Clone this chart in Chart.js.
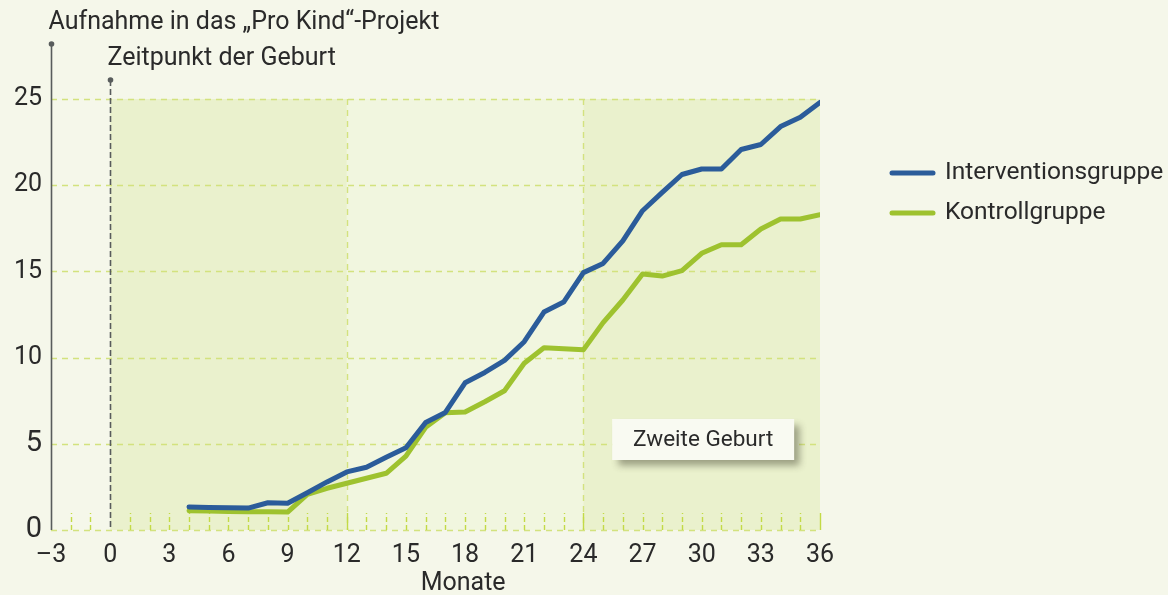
<!DOCTYPE html>
<html>
<head>
<meta charset="utf-8">
<script src="https://cdn.jsdelivr.net/npm/chart.js@4/dist/chart.umd.min.js"></script>
<style>
html,body{margin:0;padding:0;background:#f5f7ea;}
#wrap{position:relative;width:1168px;height:595px;}
canvas{display:block;}
</style>
</head>
<body>
<div id="wrap"><canvas id="c" width="1168" height="595"></canvas></div>
<script>
// ---- data ----
const months = [4,5,6,7,8,9,10,11,12,13,14,15,16,17,18,19,20,21,22,23,24,25,26,27,28,29,30,31,32,33,34,35,36];
const interventionsgruppe = [1.34,1.31,1.29,1.27,1.58,1.55,2.16,2.79,3.37,3.64,4.22,4.77,6.24,6.82,8.54,9.14,9.84,10.92,12.64,13.22,14.93,15.46,16.77,18.52,19.58,20.62,20.94,20.94,22.07,22.36,23.40,23.94,24.80];
const kontrollgruppe = [1.12,1.10,1.08,1.06,1.06,1.04,2.07,2.42,2.71,3.00,3.29,4.29,5.96,6.80,6.84,7.44,8.08,9.67,10.57,10.51,10.45,12.03,13.34,14.85,14.73,15.04,16.05,16.55,16.55,17.46,18.04,18.04,18.29];
const seriesLabels = ['Interventionsgruppe','Kontrollgruppe'];
const seriesColors = ['#2b5c9a','#9ec22f'];
const xTicks = [-3,0,3,6,9,12,15,18,21,24,27,30,33,36];
const yTicks = [0,5,10,15,20,25];
const annotations = [
  {month:-3, label:'Aufnahme in das \u201EPro Kind\u201C-Projekt'},
  {month:0, label:'Zeitpunkt der Geburt'}
];
const shadedSpans = [[0,12],[24,36]];
const lightSpans = [[12,24]];
const boxLabel = 'Zweite Geburt';
const xTitle = 'Monate';

const FONT = 'Roboto';
const TEXT = '#2a2a2a';
const GRID = '#d3e27e';
const TICKC = '#c3da46';
const DARK = '#585c5c';

const toPts = arr => months.map((m,i)=>({x:m,y:arr[i]}));

const deco = {
  id:'deco',
  beforeDatasetsDraw(chart){
    const {ctx, scales:{x,y}} = chart;
    ctx.save();
    const yTop = y.getPixelForValue(25), yBot = y.getPixelForValue(0);
    lightSpans.forEach(([s,e])=>{
      ctx.fillStyle='#f1f6df';
      ctx.fillRect(x.getPixelForValue(s), yTop, x.getPixelForValue(e)-x.getPixelForValue(s), yBot-yTop);
    });
    shadedSpans.forEach(([s,e])=>{
      ctx.fillStyle='#eaf1cd';
      ctx.fillRect(x.getPixelForValue(s), yTop, x.getPixelForValue(e)-x.getPixelForValue(s), yBot-yTop);
    });
    // horizontal grid
    ctx.strokeStyle=GRID; ctx.lineWidth=1.4; ctx.setLineDash([6,5]);
    yTicks.forEach(v=>{
      const py=Math.round(y.getPixelForValue(v))+0.5;
      ctx.beginPath(); ctx.moveTo(x.getPixelForValue(-3),py); ctx.lineTo(x.getPixelForValue(36),py); ctx.stroke();
    });
    // vertical grid at 12, 24
    [12,24].forEach(v=>{
      const px=Math.round(x.getPixelForValue(v))+0.5;
      ctx.beginPath(); ctx.moveTo(px,yTop); ctx.lineTo(px,yBot); ctx.stroke();
    });
    // monthly short ticks
    ctx.strokeStyle=TICKC; ctx.lineWidth=1.4;
    for(let m=-2;m<=36;m++){
      if(m===0) continue;
      const px=Math.round(x.getPixelForValue(m))+0.5;
      if(m===12||m===24||m===36){ctx.setLineDash([]);} else ctx.setLineDash([5,3]);
      ctx.beginPath(); ctx.moveTo(px,yBot); ctx.lineTo(px,yBot-17); ctx.stroke();
    }
    // annotation lines
    ctx.setLineDash([]);
    const aTop = [44,80];
    annotations.forEach((an,i)=>{
      const px=Math.round(x.getPixelForValue(an.month))+0.5;
      ctx.strokeStyle=DARK; ctx.lineWidth=1.6;
      ctx.setLineDash(i===0?[]:[6,3]);
      ctx.beginPath(); ctx.moveTo(px,aTop[i]); ctx.lineTo(px,yBot); ctx.stroke();
      ctx.setLineDash([]);
      ctx.fillStyle=DARK;
      ctx.beginPath(); ctx.arc(px,aTop[i],2.8,0,Math.PI*2); ctx.fill();
      ctx.fillStyle=TEXT; ctx.font='25px '+FONT; ctx.textBaseline='middle'; ctx.textAlign='left';
      ctx.fillText(an.label, px-3, aTop[i]-21);
    });
    ctx.restore();
  },
  afterDatasetsDraw(chart){
    const {ctx, scales:{x,y}} = chart;
    ctx.save();
    // box
    const bx1=x.getPixelForValue(25.46), bx2=x.getPixelForValue(34.69);
    const by1=y.getPixelForValue(6.44), by2=y.getPixelForValue(4.06);
    ctx.shadowColor='rgba(60,60,40,0.45)'; ctx.shadowBlur=7; ctx.shadowOffsetX=6; ctx.shadowOffsetY=6;
    ctx.fillStyle='#f9faf2';
    ctx.fillRect(bx1,by1,bx2-bx1,by2-by1);
    ctx.shadowColor='transparent';
    ctx.fillStyle=TEXT; ctx.font='22.5px '+FONT; ctx.textAlign='center'; ctx.textBaseline='middle';
    ctx.fillText(boxLabel,(bx1+bx2)/2,(by1+by2)/2+1);
    // x title
    ctx.font='25px '+FONT;
    ctx.fillText(xTitle, x.getPixelForValue(17.9), 584);
    // legend
    seriesLabels.forEach((lab,i)=>{
      const ly=173+i*40;
      ctx.strokeStyle=seriesColors[i]; ctx.lineWidth=5; ctx.lineCap='round';
      ctx.beginPath(); ctx.moveTo(892,ly); ctx.lineTo(933,ly); ctx.stroke();
      ctx.fillStyle=TEXT; ctx.font='24.5px '+FONT; ctx.textAlign='left'; ctx.textBaseline='middle';
      ctx.fillText(lab,945,ly);
    });
    ctx.restore();
  }
};

new Chart(document.getElementById('c'),{
  type:'line',
  data:{datasets:[
    {label:seriesLabels[0],data:toPts(interventionsgruppe),borderColor:seriesColors[0],backgroundColor:seriesColors[0],borderWidth:5,pointRadius:0,tension:0,borderJoinStyle:'round',borderCapStyle:'round'},
    {label:seriesLabels[1],data:toPts(kontrollgruppe),borderColor:seriesColors[1],backgroundColor:seriesColors[1],borderWidth:5,pointRadius:0,tension:0,borderJoinStyle:'round',borderCapStyle:'round'}
  ]},
  options:{
    responsive:false,animation:false,
    layout:{padding:{left:0,top:99,right:348,bottom:0}},
    plugins:{legend:{display:false},tooltip:{enabled:false}},
    scales:{
      x:{type:'linear',min:-3,max:36,
        afterBuildTicks:s=>{s.ticks=xTicks.map(v=>({value:v}));},
        afterFit:s=>{s.height=65;},
        grid:{display:false},border:{display:false},
        ticks:{color:TEXT,font:{family:FONT,size:25},padding:3,maxRotation:0,autoSkip:false,
          callback:v=>v<0?'\u2013'+Math.abs(v):String(v)}},
      y:{type:'linear',min:0,max:25,
        afterBuildTicks:s=>{s.ticks=yTicks.map(v=>({value:v}));},
        afterFit:s=>{s.width=51;},
        grid:{display:false},border:{display:false},
        ticks:{color:TEXT,padding:1,
          font:c=>({family:FONT,size:(c.tick&&c.tick.value<10)?29:25})}}
    }
  },
  plugins:[deco]
});
</script>
</body>
</html>
